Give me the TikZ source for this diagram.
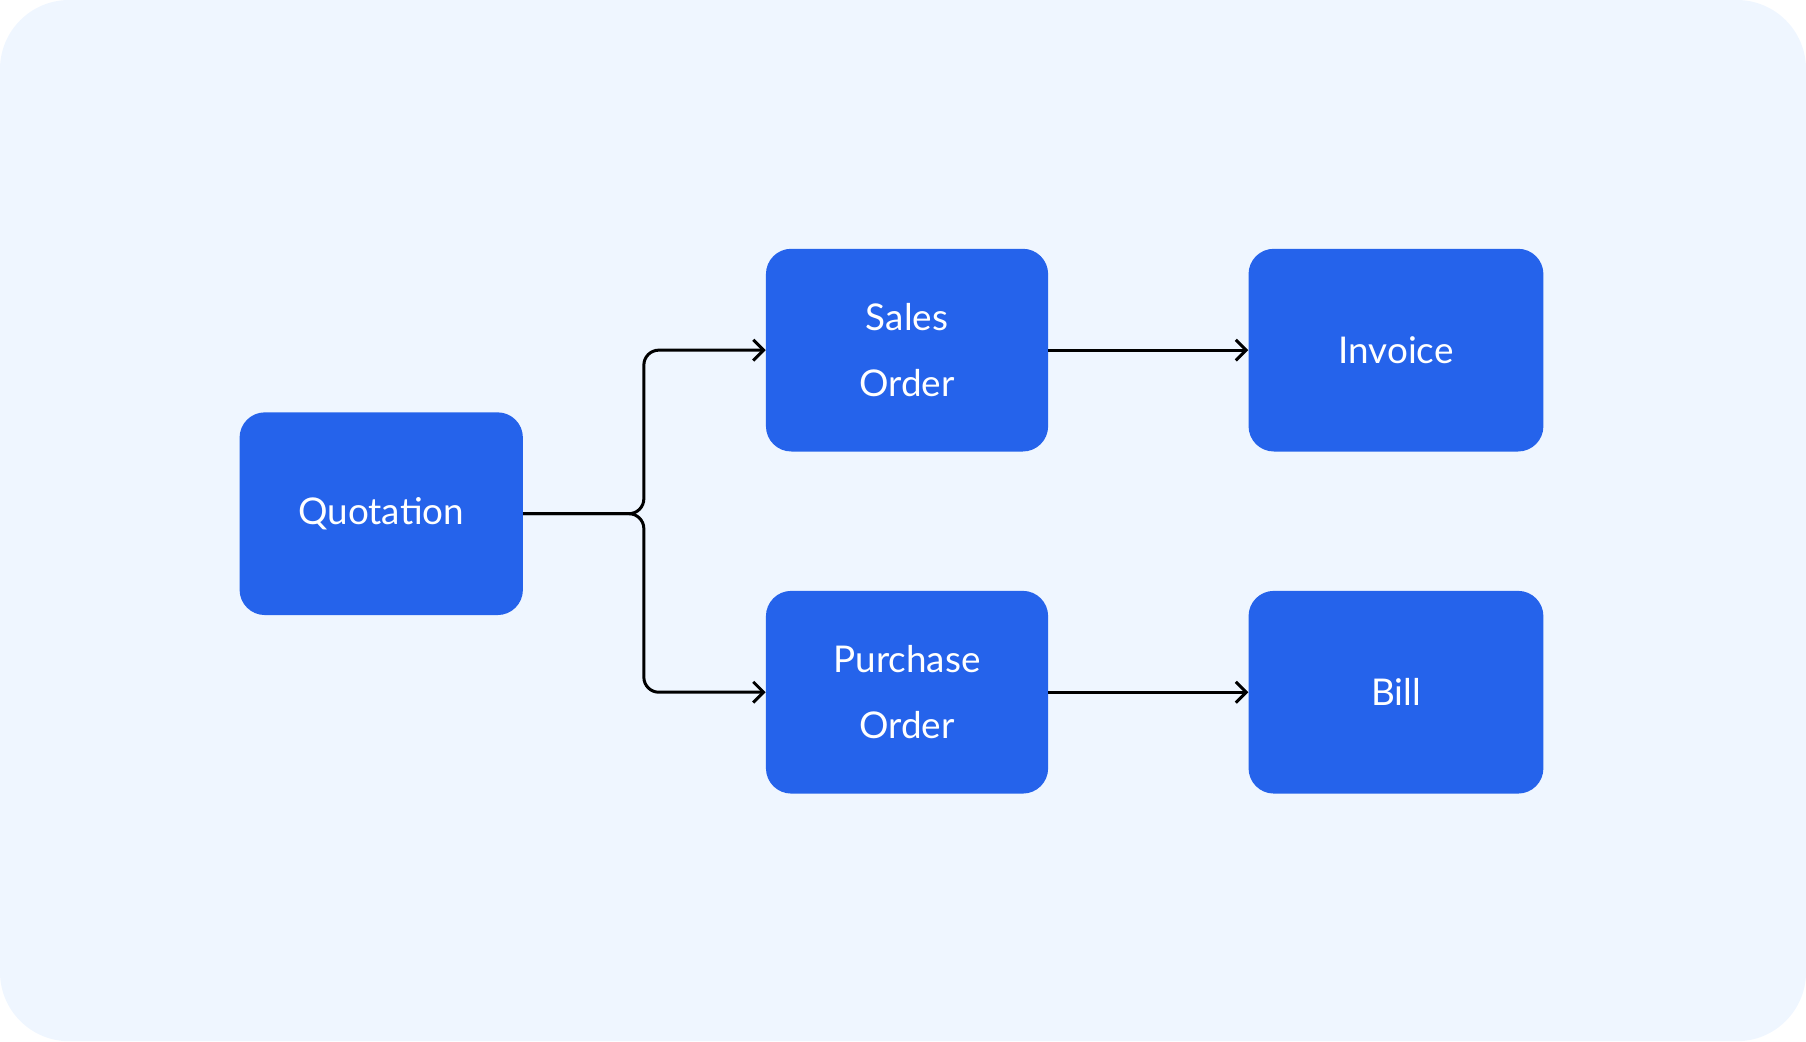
\documentclass[tikz,border=0pt]{standalone}
\usepackage{fontspec}
\setmainfont{Lato}
\usetikzlibrary{arrows.meta}
\definecolor{bg}{HTML}{EFF6FF}
\definecolor{bx}{HTML}{2563EB}
\begin{document}
\begin{tikzpicture}[x=1pt,y=-1pt,
  box/.style={fill=bx,rounded corners=22pt,draw=none,text=white,align=center,
    font=\fontsize{32}{57}\selectfont,inner sep=0pt},
  conn/.style={line width=2.6pt,rounded corners=13pt,-{Straight Barb[length=9pt,width=18pt,line width=2.6pt]}}]
\fill[bg,rounded corners=60pt] (0,0) rectangle (1568,904);
\useasboundingbox (0,0) rectangle (1568,904);
\node[box,minimum width=246pt,minimum height=176pt] (q) at (331,446) {Quotation};
\node[box,minimum width=245pt,minimum height=176pt] (so) at (787.5,304) {Sales\\Order};
\node[box,minimum width=256pt,minimum height=176pt] (inv) at (1212,304) {Invoice};
\node[box,minimum width=245pt,minimum height=176pt] (po) at (787.5,601) {Purchase\\Order};
\node[box,minimum width=256pt,minimum height=176pt] (bill) at (1212,601) {Bill};
\coordinate (j) at (559,446);
\draw[conn] (q.east) -- (j) |- (so.west);
\draw[conn] (q.east) -- (j) |- (po.west);
\draw[conn] (so.east) -- (inv.west);
\draw[conn] (po.east) -- (bill.west);
\end{tikzpicture}
\end{document}
